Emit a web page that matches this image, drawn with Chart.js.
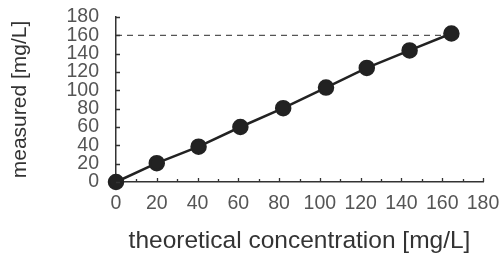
<!DOCTYPE html>
<html lang="en">
<head>
    <meta charset="UTF-8">
    <title>measured vs theoretical</title>
    <script src="https://cdn.jsdelivr.net/npm/chart.js"></script>
    <style>
        body {
            margin: 0;
            background-color: #fff;
        }
        .chart-container {
            position: relative;
            width: 504px;
            height: 255px;
        }
    </style>
</head>
<body>
    <div class="chart-container">
        <canvas id="calibChart"></canvas>
    </div>
    <script>
        // values
        const theoretical = [0, 20, 40.5, 61, 82, 103, 123, 144, 164.5];
        const measured = [0, 20.5, 38.5, 60, 80.5, 103, 124.5, 143.5, 162];
        const refX = [0, 161];
        const refY = [160, 160];
        const axisMin = 0;
        const axisMax = 180;

        // inward tick marks (y: right, x: up), minor x ticks every 10
        const innerTicks = {
            id: 'innerTicks',
            afterDraw(chart) {
                const ctx = chart.ctx;
                const x = chart.scales.x;
                const y = chart.scales.y;
                const x0 = x.left;
                const y0 = y.bottom;
                ctx.save();
                ctx.strokeStyle = '#333';
                ctx.lineWidth = 1.3;
                ctx.beginPath();
                for (let v = axisMin; v <= axisMax; v += 20) {
                    const py = Math.round(y.getPixelForValue(v)) + 0.5;
                    ctx.moveTo(x0, py);
                    ctx.lineTo(x0 + 4, py);
                }
                for (let v = axisMin + 10; v <= axisMax; v += 10) {
                    const px = Math.round(x.getPixelForValue(v)) + 0.5;
                    const len = v % 20 === 0 ? 4 : 3;
                    ctx.moveTo(px, y0);
                    ctx.lineTo(px, y0 - len);
                }
                ctx.stroke();
                ctx.restore();
            }
        };

        // drop the extra room chart.js keeps for end labels
        function noPad(scale) {
            scale.paddingTop = 0;
            scale.paddingBottom = 0;
            scale.paddingLeft = 0;
            scale.paddingRight = 0;
        }

        const ctx = document.getElementById('calibChart').getContext('2d');
        new Chart(ctx, {
            type: 'scatter',
            data: {
                datasets: [{
                    label: 'measured',
                    data: theoretical.map((t, i) => ({ x: t, y: measured[i] })),
                    showLine: true,
                    borderColor: '#222',
                    backgroundColor: '#222',
                    borderWidth: 2.5,
                    pointRadius: 7,
                    pointHoverRadius: 7,
                    clip: false,
                    order: 1
                }, {
                    label: '160',
                    data: refX.map((t, i) => ({ x: t, y: refY[i] })),
                    showLine: true,
                    borderColor: '#555',
                    borderWidth: 1.2,
                    borderDash: [6, 5],
                    pointRadius: 0,
                    clip: false,
                    order: 2
                }]
            },
            options: {
                responsive: true,
                maintainAspectRatio: false,
                animation: false,
                layout: {
                    padding: { top: 17, right: 21, left: 0, bottom: 0 }
                },
                plugins: {
                    legend: { display: false },
                    tooltip: { enabled: false }
                },
                scales: {
                    x: {
                        type: 'linear',
                        min: axisMin,
                        max: axisMax,
                        afterFit: (scale) => { scale.height = 73; noPad(scale); },
                        grid: { display: false, drawTicks: false },
                        border: { display: true, color: '#333', width: 1.5 },
                        ticks: {
                            stepSize: 20,
                            autoSkip: false,
                            maxRotation: 0,
                            padding: 12,
                            color: '#555',
                            font: { family: 'Liberation Sans', size: 19.5, lineHeight: 1 }
                        },
                        title: {
                            display: true,
                            text: 'theoretical concentration [mg/L]',
                            color: '#333',
                            padding: { top: 0, bottom: 0 },
                            font: { family: 'Liberation Sans', size: 24.5, lineHeight: 1.1 }
                        }
                    },
                    y: {
                        type: 'linear',
                        min: axisMin,
                        max: axisMax,
                        afterFit: (scale) => { scale.width = 116; noPad(scale); },
                        grid: { display: false, drawTicks: false },
                        border: { display: true, color: '#333', width: 1.5 },
                        ticks: {
                            stepSize: 20,
                            autoSkip: false,
                            padding: 17,
                            color: '#555',
                            font: { family: 'Liberation Sans', size: 19.5, lineHeight: 1 }
                        },
                        title: {
                            display: true,
                            text: 'measured [mg/L]',
                            color: '#333',
                            padding: { top: 8, bottom: 0 },
                            font: { family: 'Liberation Sans', size: 21, lineHeight: 1.2 }
                        }
                    }
                }
            },
            plugins: [innerTicks]
        });
    </script>
</body>
</html>
